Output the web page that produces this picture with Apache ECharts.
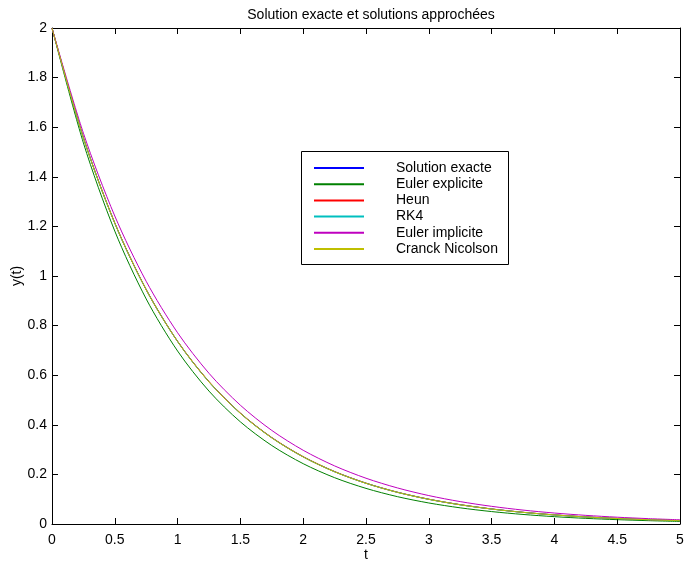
<!DOCTYPE html>
<html>
<head>
<meta charset="utf-8">
<script src="https://cdn.jsdelivr.net/npm/echarts@6/dist/echarts.min.js"></script>
<style>html,body{margin:0;padding:0;background:#fff}#c{width:684px;height:561px}</style>
</head>
<body>
<div id="c"></div>
<script>
var tValues = [0,0.25,0.5,0.75,1,1.25,1.5,1.75,2,2.25,2.5,2.75,3,3.25,3.5,3.75,4,4.25,4.5,4.75,5];
var exacte = [2,1.5576,1.2131,0.9447,0.7358,0.5730,0.4463,0.3476,0.2707,0.2108,0.1642,0.1278,0.0996,0.0776,0.0604,0.0470,0.0366,0.0285,0.0222,0.0173,0.0135];
var eulerExplicite = [2,1.5368,1.1810,0.9075,0.6974,0.5359,0.4118,0.3164,0.2432,0.1868,0.1436,0.1103,0.0848,0.0652,0.0501,0.0385,0.0296,0.0227,0.0175,0.0134,0.0103];
var heun = [2,1.5583,1.2142,0.9460,0.7371,0.5743,0.4475,0.3487,0.2717,0.2117,0.1649,0.1284,0.1001,0.0781,0.0608,0.0473,0.0369,0.0287,0.0224,0.0174,0.0136];
var rk4 = [2,1.5576,1.2131,0.9447,0.7358,0.5730,0.4463,0.3476,0.2707,0.2108,0.1642,0.1278,0.0996,0.0776,0.0604,0.0470,0.0366,0.0285,0.0222,0.0173,0.0135];
var eulerImplicite = [2,1.5759,1.2418,0.9786,0.7711,0.6076,0.4788,0.3773,0.2973,0.2343,0.1846,0.1455,0.1146,0.0903,0.0712,0.0561,0.0442,0.0348,0.0274,0.0216,0.0170];
var cranckNicolson = [2,1.5573,1.2126,0.9441,0.7352,0.5724,0.4457,0.3471,0.2703,0.2104,0.1639,0.1275,0.0994,0.0774,0.0602,0.0469,0.0365,0.0284,0.0221,0.0172,0.0134];
var seriesNames = ['Solution exacte','Euler explicite','Heun','RK4','Euler implicite','Cranck Nicolson'];
var seriesColors = ['#0000ff','#008000','#ff0000','#00bfbf','#bf00bf','#bfbf00'];
var seriesValues = [exacte, eulerExplicite, heun, rk4, eulerImplicite, cranckNicolson];

var font = '"Liberation Sans", Arial, Helvetica, sans-serif';
function pairs(v){ return tValues.map(function(t,i){ return [t, v[i]]; }); }

var chart = echarts.init(document.getElementById('c'));
function axisCommon(){
  return {
    axisLine:{show:true,onZero:false,lineStyle:{color:'#000',width:1}},
    axisTick:{show:true,inside:true,length:6,lineStyle:{color:'#000',width:1}},
    splitLine:{show:false}
  };
}
chart.setOption({
  animation:false,
  backgroundColor:'#fff',
  title:{text:'Solution exacte et solutions approchées',left:366,top:3,textAlign:'center',
    textStyle:{fontFamily:font,fontSize:14,fontWeight:'normal',color:'#000'}},
  grid:{left:52,right:4,top:28,bottom:37,containLabel:false,outerBoundsMode:'none'},
  xAxis:[
    Object.assign({type:'value',position:'bottom',min:0,max:5,interval:0.5,name:'t',nameLocation:'middle',nameGap:24,
      nameMoveOverlap:false,
      nameTextStyle:{fontFamily:font,fontSize:14,color:'#000'},
      axisLabel:{fontFamily:font,fontSize:14,color:'#000',margin:9}}, axisCommon()),
    Object.assign({type:'value',position:'top',min:0,max:5,interval:0.5,axisLabel:{show:false}}, axisCommon())
  ],
  yAxis:[
    Object.assign({type:'value',position:'left',min:0,max:2,interval:0.2,name:'y(t)',nameLocation:'middle',nameGap:28,
      nameMoveOverlap:false,
      nameTextStyle:{fontFamily:font,fontSize:14,color:'#000'},
      axisLabel:{fontFamily:font,fontSize:14,color:'#000',margin:5}}, axisCommon()),
    Object.assign({type:'value',position:'right',min:0,max:2,interval:0.2,axisLabel:{show:false}}, axisCommon())
  ],
  graphic:[{type:'rect',shape:{x:301.5,y:151.5,width:207,height:113},style:{fill:'#fff',stroke:'#000',lineWidth:1},z:90}],
  legend:{orient:'vertical',left:314,top:160,padding:0,itemWidth:50,itemHeight:2,itemGap:0.2,z:100,
    icon:'rect',
    itemStyle:{borderWidth:0,opacity:1},
    data:seriesNames.map(function(n,i){ return {name:n,itemStyle:{color:seriesColors[i],borderWidth:0}}; }),
    textStyle:{fontFamily:font,fontSize:14,color:'#000',lineHeight:16,padding:[0,0,0,27]}},
  series:seriesNames.map(function(n,i){
    return {name:n,type:'line',data:pairs(seriesValues[i]),symbol:'none',smooth:0.3,
      lineStyle:{color:seriesColors[i],width:1},itemStyle:{color:seriesColors[i]}};
  })
});
</script>
</body>
</html>
